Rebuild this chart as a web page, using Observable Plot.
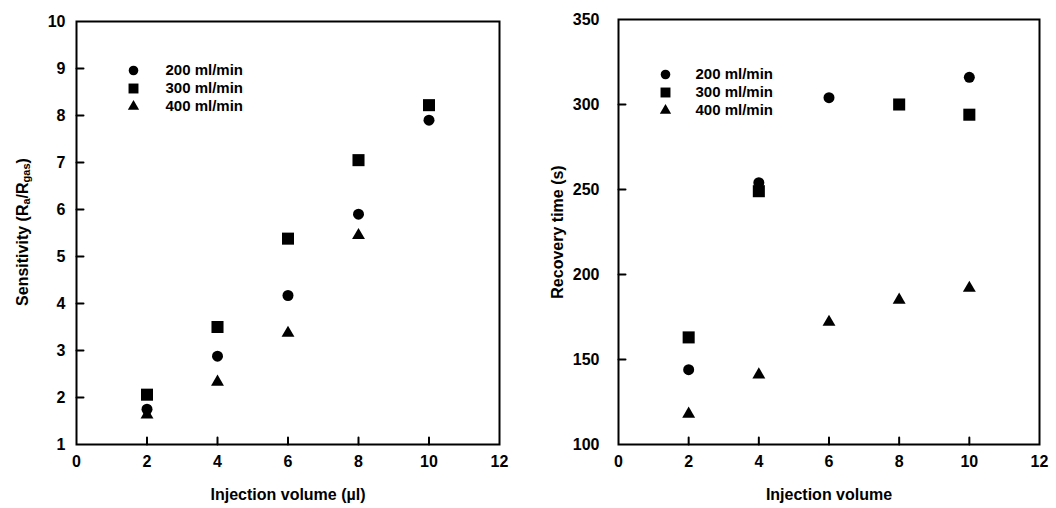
<!DOCTYPE html>
<html><head><meta charset="utf-8">
<script src="https://cdn.jsdelivr.net/npm/d3@7"></script>
<script src="https://cdn.jsdelivr.net/npm/@observablehq/plot@0.6"></script>
<style>
body{margin:0;background:#fff;}
#p1,#p2{position:absolute;top:0;width:528px;height:508px;}
#p1{left:0;} #p2{left:528px;}
</style></head><body><div id="p1"></div><div id="p2"></div>
<script>
// ---- data ----
const volume = [2, 4, 6, 8, 10];
const flowLabels = ["200 ml/min", "300 ml/min", "400 ml/min"];
const symbols = ["circle", "square", "triangle"];
const sens200 = [1.75, 2.88, 4.17, 5.9, 7.9];
const sens300 = [2.06, 3.5, 5.38, 7.05, 8.22];
const sens400 = [1.63, 2.33, 3.37, 5.45, null];
const rec200 = [144, 254, 304, null, 316];
const rec300 = [163, 249, null, 300, 294];
const rec400 = [118, 141, 172, 185, 192];
const xTicks = [0, 2, 4, 6, 8, 10, 12];
const sensTicks = [1, 2, 3, 4, 5, 6, 7, 8, 9, 10];
const recTicks = [100, 150, 200, 250, 300, 350];

const FONT = "'Liberation Sans', Arial, Helvetica, sans-serif";
const dataR = [5.5, 6.8, 4.8];
const legendR = [4.8, 5.6, 4.2];

function rows(ys) {
  return volume.map((x, i) => ({x, y: ys[i]})).filter(d => d.y != null);
}

function panel(cfg) {
  const W = 528, H = 508, marginBottom = 64;
  const xMin = xTicks[0], yMin = cfg.yDomain[0];
  const marks = [
    Plot.axisX({ticks: xTicks, tickSize: 0, tickPadding: 11, tickFormat: d => String(d),
      label: cfg.xLabel, labelAnchor: "center", labelOffset: 55, labelArrow: "none"}),
    Plot.axisY({ticks: cfg.yTicks, tickSize: 0, tickPadding: cfg.yTickPadding, tickFormat: d => String(d),
      label: cfg.yLabel, labelAnchor: "center", labelOffset: cfg.yLabelOffset, labelArrow: "none"}),
    Plot.frame({stroke: "black", strokeWidth: 2}),
    // inward tick marks
    Plot.vector(xTicks.slice(1, -1), {x: d => d, y: () => yMin, length: 7, rotate: 0, anchor: "start",
      shape: "spike", r: 0.001, stroke: "black", strokeWidth: 2, fill: "none"}),
    Plot.vector(cfg.yTicks.slice(1, -1), {x: () => xMin, y: d => d, length: 7, rotate: 90, anchor: "start",
      shape: "spike", r: 0.001, stroke: "black", strokeWidth: 2, fill: "none"})
  ];
  cfg.series.forEach((ys, i) => {
    marks.push(Plot.dot(rows(ys), {x: "x", y: "y", symbol: symbols[i], r: dataR[i], fill: "black"}));
    marks.push(Plot.dot([flowLabels[i]], {x: null, y: null, frameAnchor: "top-left", dx: cfg.legendDx, dy: cfg.legendDy + i * 18,
      symbol: symbols[i], r: legendR[i], fill: "black"}));
    marks.push(Plot.text([flowLabels[i]], {x: null, y: null, frameAnchor: "top-left", dx: cfg.legendTextDx, dy: cfg.legendDy + i * 18,
      text: d => d, textAnchor: "start", lineAnchor: "middle", fontSize: 15, fontWeight: "bold", fill: "black"}));
  });
  return Plot.plot({
    width: W, height: H,
    marginLeft: cfg.marginLeft, marginRight: cfg.marginRight, marginTop: cfg.marginTop, marginBottom,
    x: {domain: [0, 12]},
    y: {domain: cfg.yDomain},
    style: {fontFamily: FONT, fontSize: "16px", fontWeight: "bold", color: "black", background: "white"},
    marks
  });
}

const left = panel({
  series: [sens200, sens300, sens400], yDomain: [1, 10], yTicks: sensTicks,
  marginLeft: 76, marginRight: 29, marginTop: 21, yTickPadding: 11,
  xLabel: "Injection volume (µl)", yLabel: null, yLabelOffset: 0,
  legendDx: 57, legendTextDx: 89, legendDy: 49
});
const right = panel({
  series: [rec200, rec300, rec400], yDomain: [100, 350], yTicks: recTicks,
  marginLeft: 90, marginRight: 17, marginTop: 19, yTickPadding: 19,
  xLabel: "Injection volume", yLabel: "Recovery time (s)", yLabelOffset: 67,
  legendDx: 47, legendTextDx: 77, legendDy: 55
});
document.getElementById("p1").append(left);
document.getElementById("p2").append(right);

// left y title with subscripts
const t = d3.select(left).append("text")
  .attr("transform", "translate(22,232) rotate(-90)")
  .attr("text-anchor", "middle")
  .attr("dominant-baseline", "central")
  .attr("font-family", FONT).attr("font-size", 16).attr("font-weight", "bold").attr("fill", "black");
t.append("tspan").text("Sensitivity (R");
t.append("tspan").attr("font-size", 11).attr("dy", 4).text("a");
t.append("tspan").attr("dy", -4).text("/R");
t.append("tspan").attr("font-size", 11).attr("dy", 4).text("gas");
t.append("tspan").attr("dy", -4).text(")");
</script></body></html>
